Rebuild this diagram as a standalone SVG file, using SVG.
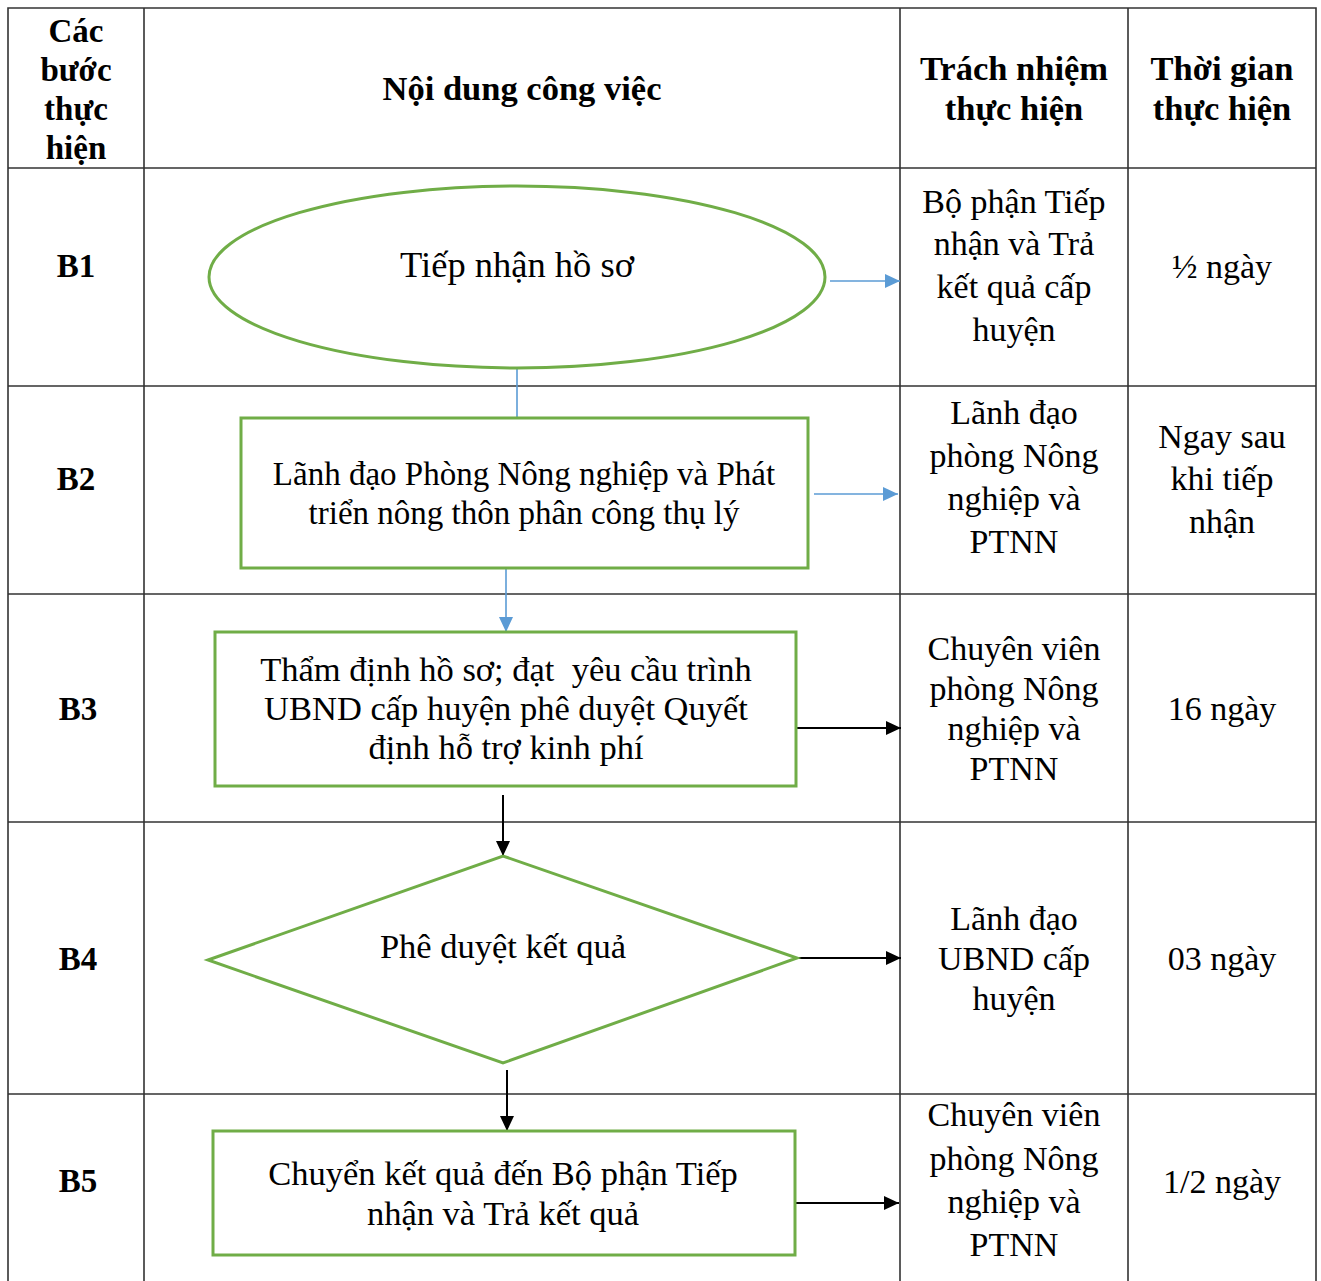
<svg xmlns="http://www.w3.org/2000/svg" width="1321" height="1281" viewBox="0 0 1321 1281">
<style>
.grid{stroke:#333;stroke-width:1.6;fill:none}
.hd{font-family:"Liberation Serif",serif;font-weight:bold;font-size:34.5px;text-anchor:middle;fill:#000}
.hd1{font-family:"Liberation Serif",serif;font-weight:bold;font-size:33px;text-anchor:middle;fill:#000}
.tx{font-family:"Liberation Serif",serif;font-size:34px;text-anchor:middle;fill:#000}
.fl{font-family:"Liberation Serif",serif;font-size:34.5px;text-anchor:middle;fill:#000;white-space:pre}
.shape{fill:#fff;stroke:#70AD47;stroke-width:3}
.blue{stroke:#5B9BD5;stroke-width:1.6;fill:none}
.black{stroke:#000;stroke-width:2;fill:none}
</style>
<defs>
<marker id="ab" markerUnits="userSpaceOnUse" markerWidth="16" markerHeight="16" viewBox="0 0 16 16" refX="15" refY="8" orient="auto"><path d="M0,1 L15,8 L0,15 Z" fill="#5B9BD5"/></marker>
<marker id="ak" markerUnits="userSpaceOnUse" markerWidth="16" markerHeight="16" viewBox="0 0 16 16" refX="15" refY="8" orient="auto"><path d="M0,1 L15,8 L0,15 Z" fill="#000"/></marker>
</defs>
<rect width="1321" height="1281" fill="#fff"/>
<g id="table">
<path class="grid" d="M8,1281 V8 H1316 V1281 M144,8 V1281 M900,8 V1281 M1128,8 V1281 M8,168 H1316 M8,386 H1316 M8,594 H1316 M8,822 H1316 M8,1094 H1316"/>
<text class="hd1" x="76" y="42">Các</text>
<text class="hd1" x="76" y="81">bước</text>
<text class="hd1" x="76" y="120">thực</text>
<text class="hd1" x="76" y="159">hiện</text>
<text class="hd" x="522" y="100">Nội dung công việc</text>
<text class="hd" x="1014" y="80">Trách nhiệm</text>
<text class="hd" x="1014" y="120">thực hiện</text>
<text class="hd" x="1222" y="80">Thời gian</text>
<text class="hd" x="1222" y="120">thực hiện</text>
<text class="hd1" x="76" y="277">B1</text>
<text class="hd1" x="76" y="490">B2</text>
<text class="hd1" x="78" y="720">B3</text>
<text class="hd1" x="78" y="970">B4</text>
<text class="hd1" x="78" y="1192">B5</text>
<text class="tx" x="1014" y="213">Bộ phận Tiếp</text>
<text class="tx" x="1014" y="255">nhận và Trả</text>
<text class="tx" x="1014" y="298">kết quả cấp</text>
<text class="tx" x="1014" y="341">huyện</text>
<text class="tx" x="1222" y="278">½ ngày</text>
<text class="tx" x="1014" y="424">Lãnh đạo</text>
<text class="tx" x="1014" y="467">phòng Nông</text>
<text class="tx" x="1014" y="510">nghiệp và</text>
<text class="tx" x="1014" y="553">PTNN</text>
<text class="tx" x="1222" y="448">Ngay sau</text>
<text class="tx" x="1222" y="490">khi tiếp</text>
<text class="tx" x="1222" y="533">nhận</text>
<text class="tx" x="1014" y="660">Chuyên viên</text>
<text class="tx" x="1014" y="700">phòng Nông</text>
<text class="tx" x="1014" y="740">nghiệp và</text>
<text class="tx" x="1014" y="780">PTNN</text>
<text class="tx" x="1222" y="720">16 ngày</text>
<text class="tx" x="1014" y="930">Lãnh đạo</text>
<text class="tx" x="1014" y="970">UBND cấp</text>
<text class="tx" x="1014" y="1010">huyện</text>
<text class="tx" x="1222" y="970">03 ngày</text>
<text class="tx" x="1014" y="1126">Chuyên viên</text>
<text class="tx" x="1014" y="1170">phòng Nông</text>
<text class="tx" x="1014" y="1213">nghiệp và</text>
<text class="tx" x="1014" y="1256">PTNN</text>
<text class="tx" x="1222" y="1193">1/2 ngày</text>
</g>
<g id="connectors">
<line class="blue" x1="517" y1="364" x2="517" y2="418"/>
<line class="blue" x1="830" y1="281" x2="900" y2="281" marker-end="url(#ab)"/>
<line class="blue" x1="814" y1="494" x2="898" y2="494" marker-end="url(#ab)"/>
<line class="blue" x1="506" y1="547" x2="506" y2="632" marker-end="url(#ab)"/>
<line class="black" x1="790" y1="728" x2="901" y2="728" marker-end="url(#ak)"/>
<line class="black" x1="503" y1="795" x2="503" y2="856" marker-end="url(#ak)"/>
<line class="black" x1="790" y1="958" x2="901" y2="958" marker-end="url(#ak)"/>
<line class="black" x1="507" y1="1070" x2="507" y2="1131" marker-end="url(#ak)"/>
<line class="black" x1="796" y1="1203" x2="899" y2="1203" marker-end="url(#ak)"/>
</g>
<g id="n1">
<ellipse class="shape" cx="517" cy="277" rx="308" ry="91"/>
<text class="fl" x="517" y="277" style="font-size:36.5px">Tiếp nhận hồ sơ</text>
</g>
<g id="n2">
<rect class="shape" x="241" y="418" width="567" height="150"/>
<text class="fl" x="524" y="485" style="font-size:33px">Lãnh đạo Phòng Nông nghiệp và Phát</text>
<text class="fl" x="524" y="524" style="font-size:33px">triển nông thôn phân công thụ lý</text>
</g>
<g id="n3">
<rect class="shape" x="215" y="632" width="581" height="154"/>
<text class="fl" x="506" y="681">Thẩm định hồ sơ; đạt  yêu cầu trình</text>
<text class="fl" x="506" y="720">UBND cấp huyện phê duyệt Quyết</text>
<text class="fl" x="506" y="759">định hỗ trợ kinh phí</text>
</g>
<g id="n4">
<polygon class="shape" points="208,960 503,856 797,958 503,1063"/>
<text class="fl" x="503" y="958">Phê duyệt kết quả</text>
</g>
<g id="n5">
<rect class="shape" x="213" y="1131" width="582" height="124"/>
<text class="fl" x="503" y="1185">Chuyển kết quả đến Bộ phận Tiếp</text>
<text class="fl" x="503" y="1225">nhận và Trả kết quả</text>
</g>
</svg>
